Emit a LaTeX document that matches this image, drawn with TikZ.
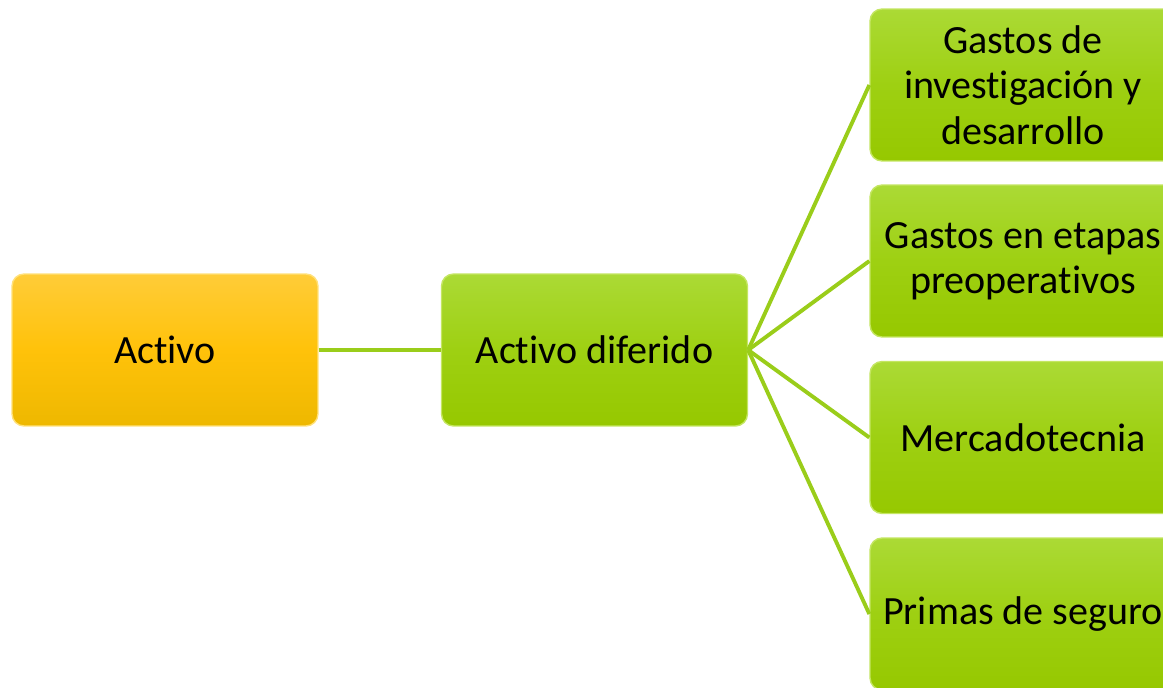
\documentclass[tikz,border=0pt]{standalone}
\usepackage{fontspec}
\setmainfont{Carlito}[Ligatures={NoCommon}]
\definecolor{gtop}{HTML}{ABDA35}
\definecolor{gbot}{HTML}{96C800}
\definecolor{gmid}{HTML}{9ED012}
\definecolor{gedge}{HTML}{C4E662}
\definecolor{otop}{HTML}{FFCC38}
\definecolor{obot}{HTML}{EEB800}
\definecolor{omid}{HTML}{FFC20A}
\definecolor{oedge}{HTML}{FFE17A}
\definecolor{conn}{HTML}{9ACD1A}
\tikzset{
  box/.style={rectangle, rounded corners=0.24cm, minimum width=6.12cm, minimum height=3.04cm,
    align=center, font=\fontsize{22.8}{25.8}\selectfont, text=black, line width=0.8pt, inner sep=0pt},
  greenbox/.style={box, draw=gedge, top color=gtop, bottom color=gbot, middle color=gmid},
  orangebox/.style={box, draw=oedge, top color=otop, bottom color=obot, middle color=omid},
  link/.style={draw=conn, line width=2.2pt}
}
\begin{document}
\begin{tikzpicture}[x=0.02cm,y=-0.02cm]
\useasboundingbox (0,0) rectangle (1163,687);
\clip (0,0) rectangle (1163,687);
\fill[white] (0,0) rectangle (1163,687);
\node[orangebox] (activo) at (165,350) {Activo};
\node[greenbox] (diferido) at (594.5,350) {Activo diferido};
\node[greenbox] (g1) at (1023,85) {Gastos de\\investigación y\\desarrollo};
\node[greenbox] (g2) at (1023,261) {Gastos en etapas\\preoperativos};
\node[greenbox] (g3) at (1023,437.5) {Mercadotecnia};
\node[greenbox] (g4) at (1023,614) {Primas de seguro};
\draw[link] (activo.east) -- (diferido.west);
\draw[link] (diferido.east) -- (g1.west);
\draw[link] (diferido.east) -- (g2.west);
\draw[link] (diferido.east) -- (g3.west);
\draw[link] (diferido.east) -- (g4.west);
\end{tikzpicture}
\end{document}
